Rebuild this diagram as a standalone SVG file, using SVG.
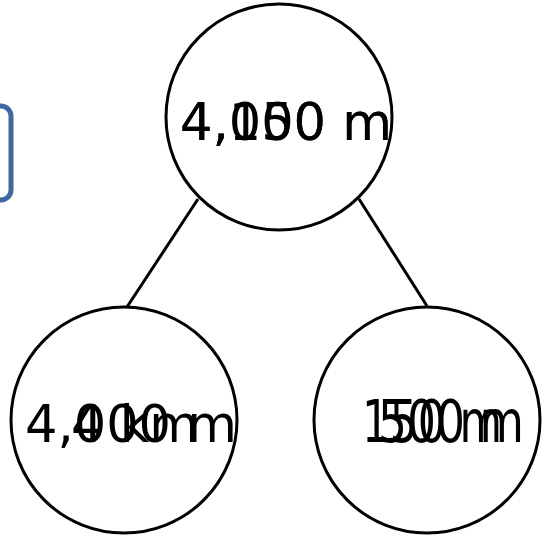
<svg xmlns="http://www.w3.org/2000/svg" width="543" height="540" viewBox="0 0 543 540">
<style>
.n{fill:#fff;stroke:#000;stroke-width:3}
.t{font-family:"DejaVu Sans",sans-serif;font-size:51px;fill:#000}
.c{font-family:"DejaVu Sans",sans-serif;font-size:58px;fill:#000}
.e{stroke:#000;stroke-width:3;fill:none}
</style>
<rect x="-40" y="106" width="51" height="94" rx="10" fill="none" stroke="#3f67a0" stroke-width="5"/>
<g id="connectors">
<line class="e" x1="198" y1="199" x2="127" y2="307"/>
<line class="e" x1="359" y1="199" x2="427" y2="306"/>
</g>
<g id="top">
<circle class="n" cx="279" cy="117" r="113"/>
<text class="t" x="286" y="140" text-anchor="middle">4,150 m</text>
<text class="t" x="286" y="140" text-anchor="middle">4,000 m</text>
</g>
<g id="left">
<circle class="n" cx="124" cy="420" r="113"/>
<text class="t" x="131" y="442" text-anchor="middle">4,000 m</text>
<text class="t" x="135" y="442" text-anchor="middle">4 km</text>
</g>
<g id="right">
<circle class="n" cx="427" cy="420" r="113"/>
<text class="c" x="362" y="442" textLength="140" lengthAdjust="spacingAndGlyphs">150 m</text>
<text class="c" x="378" y="442" textLength="146" lengthAdjust="spacingAndGlyphs">500 m</text>
</g>
</svg>
